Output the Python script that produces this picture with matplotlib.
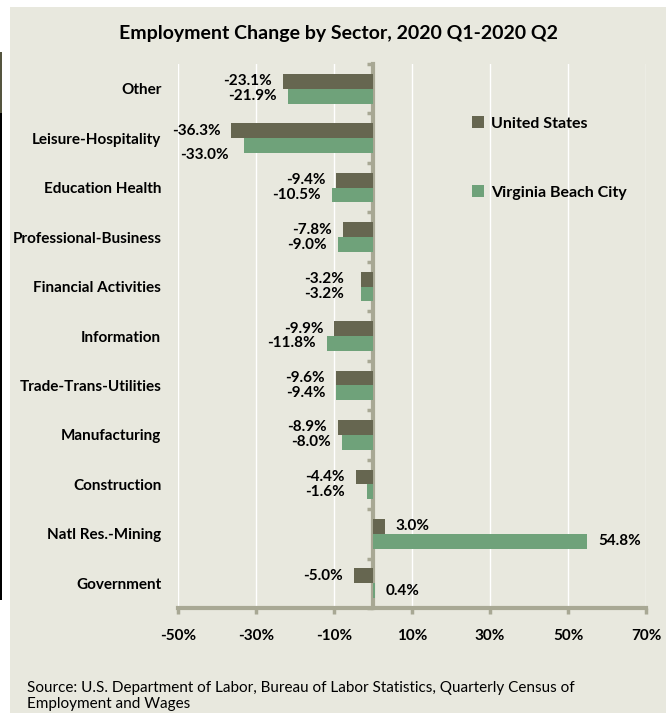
import matplotlib
matplotlib.use("Agg")
import matplotlib.pyplot as plt
from matplotlib.patches import Rectangle
import numpy as np

plt.rcParams['font.family'] = ['Lato', 'DejaVu Sans']

sectors = ["Other", "Leisure-Hospitality", "Education Health", "Professional-Business",
           "Financial Activities", "Information", "Trade-Trans-Utilities", "Manufacturing",
           "Construction", "Natl Res.-Mining", "Government"]
us = [-23.1, -36.3, -9.4, -7.8, -3.2, -9.9, -9.6, -8.9, -4.4, 3.0, -5.0]
vb = [-21.9, -33.0, -10.5, -9.0, -3.2, -11.8, -9.4, -8.0, -1.6, 54.8, 0.4]
xticks = [-50, -30, -10, 10, 30, 50, 70]

BG = "#e8e8de"
C_US = "#666650"
C_VB = "#6fa27a"
AXC = "#a8a894"

fig = plt.figure(figsize=(6.66, 7.13), dpi=100, facecolor="white")
fig.patches.append(Rectangle((10/666, 0), 1, 1 - 7/713, transform=fig.transFigure,
                             facecolor=BG, edgecolor="none", zorder=-10))
# dark strip on the far left edge
fig.patches.append(Rectangle((0, 1 - 113/713), 2/666, 61/713, transform=fig.transFigure,
                             facecolor="#55553f", edgecolor="none"))
fig.patches.append(Rectangle((0, 1 - 600/713), 2/666, 487/713, transform=fig.transFigure,
                             facecolor="black", edgecolor="none"))

ax = fig.add_axes([178/666, 1 - 608/713, 468/666, 544/713])
ax.set_facecolor(BG)

y = np.arange(len(sectors))
h = 0.3
ax.barh(y - h/2, us, height=h, color=C_US, label="United States", zorder=3)
ax.barh(y + h/2, vb, height=h, color=C_VB, label="Virginia Beach City", zorder=3)

ax.set_xlim(-50, 70)
ax.set_ylim(len(sectors) - 0.5, -0.5)
ax.set_xticks(xticks)
ax.set_xticklabels([f"{t}%" for t in xticks], fontsize=11, fontweight="bold")
ax.set_yticks(y)
ax.set_yticklabels(sectors, fontsize=11, fontweight="bold")
ax.tick_params(axis="y", length=0, pad=12)
ax.tick_params(axis="x", length=4, width=2.5, color=AXC, pad=11)
ax.grid(axis="x", color="white", lw=1.0, zorder=0)
for s in ["top", "right", "left"]:
    ax.spines[s].set_visible(False)
ax.spines["bottom"].set_color(AXC)
ax.spines["bottom"].set_linewidth(3)

# category axis at x = 0
sec = ax.secondary_yaxis(50/120)
sec.set_yticks(np.arange(len(sectors) + 1) - 0.5)
sec.set_yticklabels([])
sec.tick_params(length=4, width=2.5, color=AXC)
sec.spines["left"].set_color(AXC)
sec.spines["left"].set_linewidth(3)
for s in ["top", "right", "bottom"]:
    sec.spines[s].set_visible(False)

# value labels (Excel-style outside end), with a nudge where Excel moved them
nudge = {("vb", 1): (-3, -7), ("vb", 8): (-8, 0), ("us", 4): (-4, 0), ("vb", 4): (-4, 0)}
for key, vals, off in [("us", us, -h/2), ("vb", vb, h/2)]:
    for i, v in enumerate(vals):
        dx, dy = nudge.get((key, i), (0, 0))
        sign = 1 if v >= 0 else -1
        ax.annotate(f"{v:.1f}%", (v, i + off), xytext=(sign * 8 + dx, dy),
                    textcoords="offset points", ha="left" if v >= 0 else "right",
                    va="center", fontsize=11, fontweight="bold", zorder=4)

ax.legend(loc="upper left", bbox_to_anchor=(458/666, 1 - 102/713), bbox_transform=fig.transFigure,
          frameon=False, prop={"weight": "bold", "size": 11.5}, handlelength=0.75,
          handleheight=0.75, handletextpad=0.4, labelspacing=3.4)

fig.text(338/666, 1 - 33/713, "Employment Change by Sector, 2020 Q1-2020 Q2",
         ha="center", va="center", fontsize=14, fontweight="bold")
fig.text(27/666, 1 - 681/713,
         "Source: U.S. Department of Labor, Bureau of Labor Statistics, Quarterly Census of\nEmployment and Wages",
         ha="left", va="top", fontsize=11, linespacing=1.2)

fig.savefig("out.png", dpi=100, facecolor="white")
